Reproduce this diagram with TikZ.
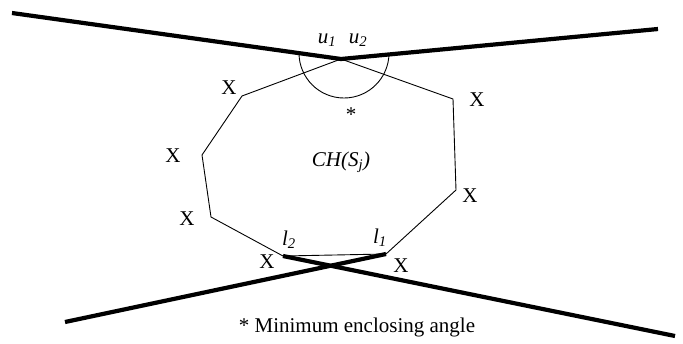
\documentclass[tikz,border=0pt]{standalone}
\usepackage{fontspec}
\setmainfont{Liberation Serif}
\begin{document}
\begin{tikzpicture}[x=1pt,y=-1pt,
  thickline/.style={line width=4.2pt},
  thinline/.style={line width=0.9pt},
  lab/.style={font=\fontsize{21}{24}\selectfont, inner sep=0pt},
  ilab/.style={font=\fontsize{21}{24}\selectfont\itshape, inner sep=0pt}]
\useasboundingbox (0,0) rectangle (683,343);
% coordinates
\coordinate (tl) at (12,13);
\coordinate (tr) at (658,29);
\coordinate (apex) at (341,59);
\coordinate (bl) at (65,322);
\coordinate (br) at (675,336);
\coordinate (l2) at (283,256);
\coordinate (l1) at (386,254);
\coordinate (v1) at (242,96);
\coordinate (v2) at (202,155);
\coordinate (v3) at (211,217);
\coordinate (v5) at (456,190);
\coordinate (v6) at (453,99);
% hull
\draw[thinline] (apex) -- (v1) -- (v2) -- (v3) -- (l2) -- (l1) -- (v5) -- (v6) -- cycle;
% thick lines
\draw[thickline] (tl) -- (apex) -- (tr);
\draw[thickline] (bl) -- (l1);
\draw[thickline] (l2) -- (br);
% angle arc
\coordinate (arcstart) at (299,53);
\draw[thinline] (arcstart) arc[start angle=180, end angle=0, radius=45];
% labels
\node[lab] (star) at (351,115) {*};
\node[ilab] (u1) at (327,40) {u\textsubscript{1}};
\node[ilab] (u2) at (358,40) {u\textsubscript{2}};
\node[ilab] (l2t) at (289,240) {l\textsubscript{2}};
\node[ilab] (l1t) at (380,238) {l\textsubscript{1}};
\node[ilab] (ch) at (341,162) {CH(S\textsubscript{j})};
\node[lab] (x1) at (229,88) {X};
\node[lab] (x2) at (173,156) {X};
\node[lab] (x3) at (187,219) {X};
\node[lab] (x4) at (267,262) {X};
\node[lab] (x5) at (401,266) {X};
\node[lab] (x6) at (477,100) {X};
\node[lab] (x7) at (470,196) {X};
\node[lab] (cap) at (357,327) {* Minimum enclosing angle};
\end{tikzpicture}
\end{document}
